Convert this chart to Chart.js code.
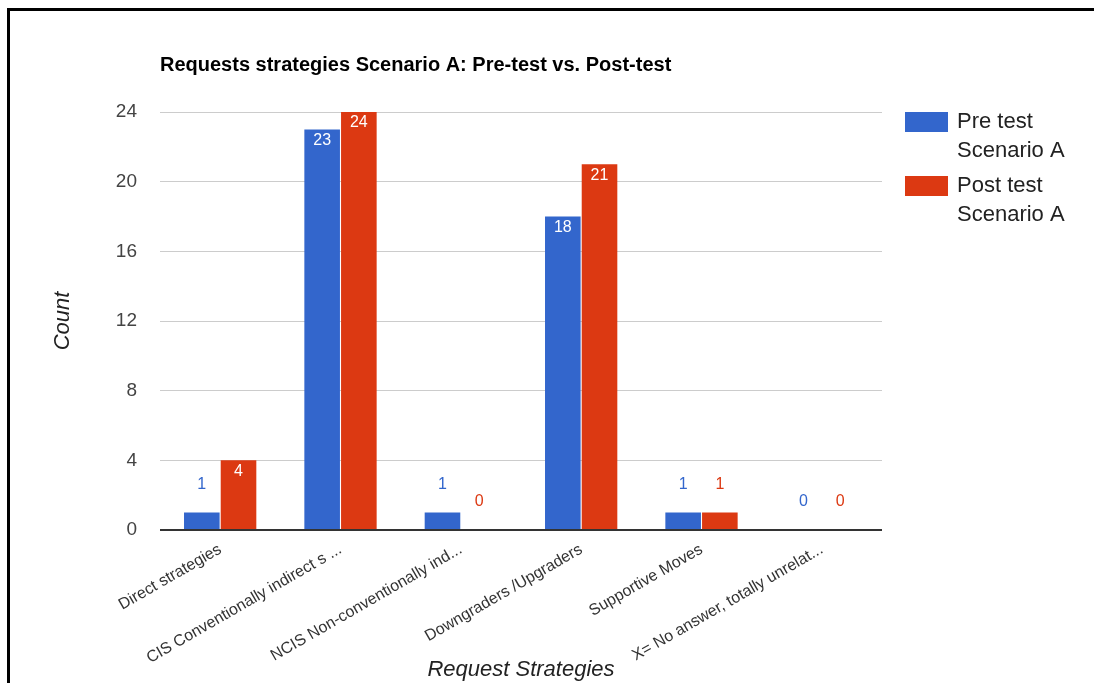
<!DOCTYPE html>
<html>
<head>
<meta charset="utf-8">
<script src="https://cdn.jsdelivr.net/npm/chart.js@4"></script>
<style>
  html, body { margin: 0; padding: 0; background: #fff; }
  body { width: 1094px; height: 683px; overflow: hidden; position: relative; }
  #frame { position: absolute; left: 7px; top: 8px; width: 1100px; height: 700px;
           border-left: 3px solid #000; border-top: 3px solid #000; box-sizing: border-box; pointer-events: none; z-index: 2; }
  #wrap { position: absolute; left: 0; top: 0; width: 1094px; height: 683px; }
</style>
</head>
<body>
<div id="wrap"><canvas id="c" width="1094" height="683"></canvas></div>
<div id="frame"></div>
<script>
const chartTitle = 'Requests strategies Scenario A: Pre-test vs. Post-test';
const categories = [
  'Direct strategies',
  'CIS Conventionally indirect s ...',
  'NCIS Non-conventionally ind...',
  'Downgraders /Upgraders',
  'Supportive Moves',
  'X= No answer, totally unrelat...'
];
const seriesNames = ['Pre test Scenario A', 'Post test Scenario A'];
const preTest = [1, 23, 1, 18, 1, 0];
const postTest = [4, 24, 0, 21, 1, 0];
const yTicks = [0, 4, 8, 12, 16, 20, 24];
const colors = ['#3366cc', '#dc3912'];
const FONT = 'Arial, "Liberation Sans", sans-serif';

const valueLabels = {
  id: 'valueLabels',
  afterDatasetsDraw(chart) {
    const ctx = chart.ctx;
    ctx.save();
    ctx.font = '16px ' + FONT;
    ctx.textAlign = 'center';
    ctx.textBaseline = 'middle';
    chart.data.datasets.forEach((ds, di) => {
      const meta = chart.getDatasetMeta(di);
      meta.data.forEach((bar, i) => {
        const v = ds.data[i];
        const h = bar.base - bar.y;
        if (h > 25) {
          ctx.fillStyle = '#ffffff';
          ctx.fillText(String(v), bar.x, bar.y + 11);
        } else {
          ctx.fillStyle = colors[di];
          ctx.fillText(String(v), bar.x, bar.y - 28);
        }
      });
    });
    ctx.restore();
  }
};

const sideLegend = {
  id: 'sideLegend',
  afterDraw(chart) {
    const ctx = chart.ctx;
    ctx.save();
    const x0 = chart.chartArea.right + 23;
    let y0 = chart.chartArea.top;
    ctx.font = '22px ' + FONT;
    ctx.textBaseline = 'middle';
    ctx.textAlign = 'left';
    chart.data.datasets.forEach((ds, di) => {
      ctx.fillStyle = colors[di];
      ctx.fillRect(x0, y0, 43, 20);
      ctx.fillStyle = '#222222';
      const words = ds.label.split(' ');
      const lines = [words.slice(0, 2).join(' '), words.slice(2).join(' ')];
      lines.forEach((ln, li) => ctx.fillText(ln, x0 + 52, y0 + 10 + li * 29));
      y0 += 64;
    });
    ctx.restore();
  }
};

new Chart(document.getElementById('c'), {
  type: 'bar',
  data: {
    labels: categories,
    datasets: [
      { label: seriesNames[0], data: preTest, backgroundColor: colors[0] },
      { label: seriesNames[1], data: postTest, backgroundColor: colors[1] }
    ]
  },
  options: {
    responsive: false,
    animation: false,
    devicePixelRatio: 1,
    layout: { padding: { left: 50, right: 212, top: 53, bottom: 0 } },
    datasets: { bar: { categoryPercentage: 0.61, barPercentage: 0.97 } },
    plugins: {
      legend: { display: false },
      tooltip: { enabled: false },
      title: {
        display: true, text: chartTitle, align: 'start', fullSize: false,
        color: '#000', font: { family: FONT, size: 20, weight: 'bold' },
        padding: { top: 0, bottom: 35 }
      }
    },
    scales: {
      x: {
        grid: { display: false },
        border: { display: false },
        ticks: { color: '#333', font: { family: FONT, size: 16 }, minRotation: 30, maxRotation: 30, padding: 2, autoSkip: false },
        title: { display: true, text: 'Request Strategies', color: '#222', font: { family: FONT, size: 22, style: 'italic' }, padding: { top: 0, bottom: 0 } },
        afterFit(s) { s.height = 153; }
      },
      y: {
        min: 0, max: 24,
        afterBuildTicks(s) { s.ticks = yTicks.map(v => ({ value: v })); },
        grid: { color: c => (c.tick && c.tick.value === 0 ? '#333333' : '#cccccc'), lineWidth: c => (c.tick && c.tick.value === 0 ? 2 : 1), drawTicks: false },
        border: { display: false },
        ticks: { color: '#444', font: { family: FONT, size: 19 }, padding: 23 },
        title: { display: true, text: 'Count', color: '#222', font: { family: FONT, size: 22, style: 'italic' }, padding: { top: 0, bottom: 0 } },
        afterFit(s) { s.width = 110; }
      }
    }
  },
  plugins: [valueLabels, sideLegend]
});
</script>
</body>
</html>
